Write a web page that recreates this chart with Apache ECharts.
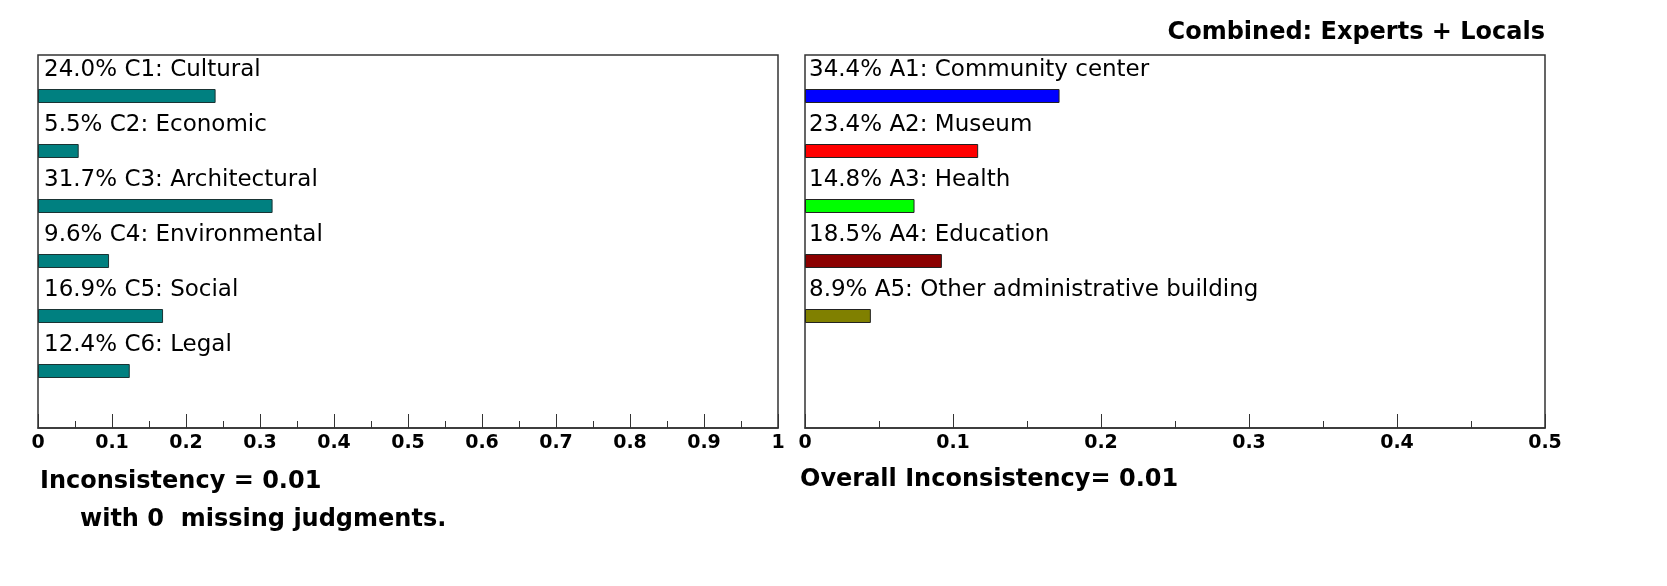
<!DOCTYPE html>
<html lang="en">
<head>
    <meta charset="UTF-8">
    <title>Combined: Experts + Locals</title>
    <script src="https://cdn.jsdelivr.net/npm/echarts@6/dist/echarts.min.js"></script>
</head>
<body style="margin:0">
<div id="main" style="width:1667px;height:586px;"></div>
<script>
    var criteria = ['C1: Cultural', 'C2: Economic', 'C3: Architectural', 'C4: Environmental', 'C5: Social', 'C6: Legal'];
    var criteriaValues = [0.240, 0.055, 0.317, 0.096, 0.169, 0.124];
    var alternatives = ['A1: Community center', 'A2: Museum', 'A3: Health', 'A4: Education', 'A5: Other administrative building', ''];
    var altValues = [0.344, 0.234, 0.148, 0.185, 0.089, null];
    var altColors = ['#0000ff', '#ff0000', '#00ff00', '#8b0000', '#808000'];

    var myChart = echarts.init(document.getElementById('main'));
    var font = 'DejaVu Sans';

    function pct(v) { return (v * 100).toFixed(1) + '%'; }

    var boxAxisLabel = { color: '#000', fontSize: 19, fontWeight: 'bold', fontFamily: font, margin: 6 };

    var option = {
        animation: false,
        grid: [
            { left: 38, top: 55, width: 740, height: 373, show: true, borderColor: '#333', borderWidth: 1.5 },
            { left: 38, top: 68.5, width: 740, height: 330 },
            { left: 805, top: 55, width: 740, height: 373, show: true, borderColor: '#333', borderWidth: 1.5 },
            { left: 805, top: 68.5, width: 740, height: 330 }
        ],
        xAxis: [
            { gridIndex: 0, type: 'value', min: 0, max: 1, interval: 0.1,
              axisLine: { show: true, lineStyle: { color: '#333', width: 1.5 } },
              axisTick: { show: true, inside: true, length: 14, lineStyle: { color: '#333' } },
              minorTick: { show: true, splitNumber: 2, length: 7, lineStyle: { color: '#333' } },
              splitLine: { show: false },
              axisLabel: Object.assign({ formatter: function (v) { return v === 0 || v === 1 ? String(v) : v.toFixed(1); } }, boxAxisLabel) },
            { gridIndex: 1, type: 'value', min: 0, max: 1, show: false },
            { gridIndex: 2, type: 'value', min: 0, max: 0.5, interval: 0.1,
              axisLine: { show: true, lineStyle: { color: '#333', width: 1.5 } },
              axisTick: { show: true, inside: true, length: 14, lineStyle: { color: '#333' } },
              minorTick: { show: true, splitNumber: 2, length: 7, lineStyle: { color: '#333' } },
              splitLine: { show: false },
              axisLabel: Object.assign({ formatter: function (v) { return v === 0 ? '0' : v.toFixed(1); } }, boxAxisLabel) },
            { gridIndex: 3, type: 'value', min: 0, max: 1, show: false }
        ],
        yAxis: [
            { gridIndex: 0, type: 'value', show: false },
            { gridIndex: 1, type: 'category', data: criteria, inverse: true, show: false },
            { gridIndex: 2, type: 'value', show: false },
            { gridIndex: 3, type: 'category', data: alternatives, inverse: true, show: false }
        ],
        title: {
            text: 'Combined: Experts + Locals', right: 117, top: 16,
            textStyle: { fontSize: 24, fontWeight: 'bold', fontFamily: font, color: '#000' }
        },
        graphic: [
            { type: 'text', left: 40, top: 470, style: { text: 'Inconsistency = 0.01', font: 'bold 24px ' + font, fill: '#000' } },
            { type: 'text', left: 80, top: 508, style: { text: 'with 0  missing judgments.', font: 'bold 24px ' + font, fill: '#000' } },
            { type: 'text', left: 800, top: 468, style: { text: 'Overall Inconsistency= 0.01', font: 'bold 24px ' + font, fill: '#000' } }
        ],
        series: [
            {
                type: 'bar', xAxisIndex: 1, yAxisIndex: 1, barWidth: 14,
                data: criteriaValues,
                itemStyle: { color: '#008080', borderColor: '#1a3333', borderWidth: 1 },
                label: {
                    show: true, position: [6, -30], color: '#000', fontSize: 23, fontFamily: font,
                    formatter: function (p) { return pct(p.value) + ' ' + p.name; }
                }
            },
            {
                type: 'bar', xAxisIndex: 3, yAxisIndex: 3, barWidth: 14,
                data: altValues.map(function (v, i) { return { value: v, itemStyle: { color: altColors[i] } }; }),
                itemStyle: { borderColor: '#222', borderWidth: 1 },
                label: {
                    show: true, position: [4, -30], color: '#000', fontSize: 23, fontFamily: font,
                    formatter: function (p) { return p.value == null ? '' : pct(p.value) + ' ' + p.name; }
                }
            }
        ]
    };
    myChart.setOption(option);
</script>
</body>
</html>
